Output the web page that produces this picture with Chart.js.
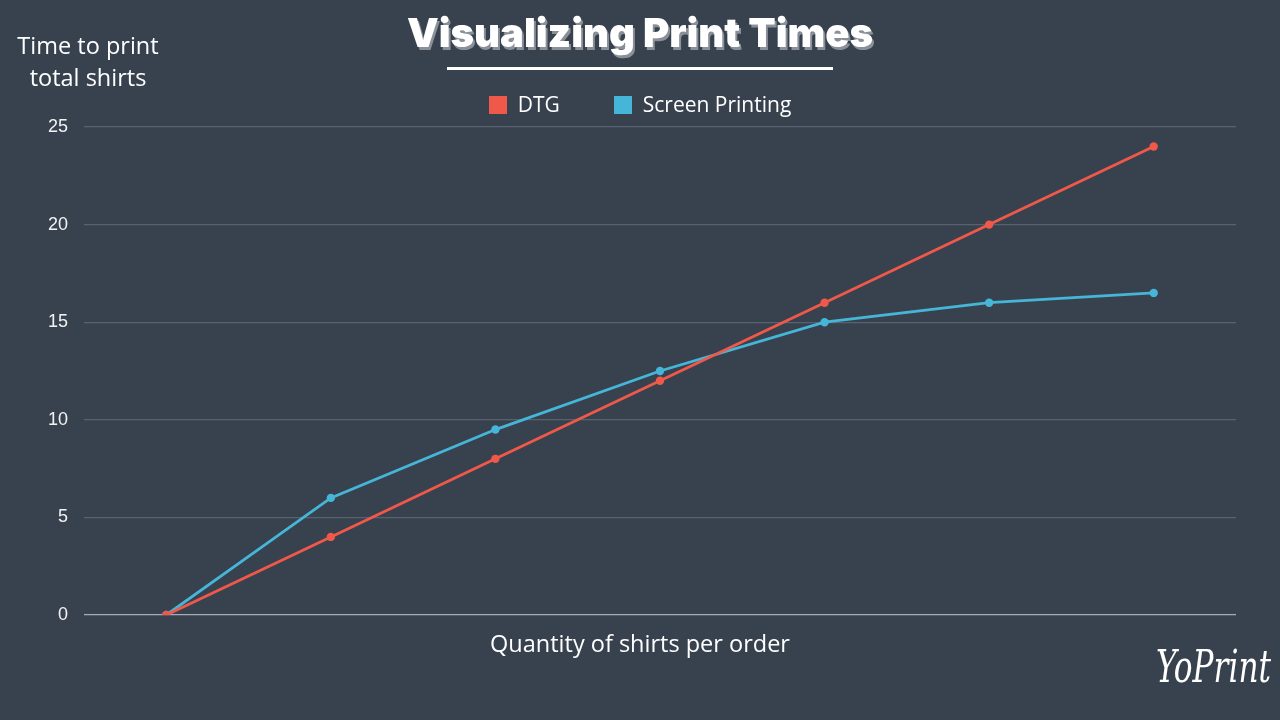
<!DOCTYPE html>
<html>
<head>
<meta charset="utf-8">
<script src="https://cdn.jsdelivr.net/npm/chart.js@4"></script>
<style>
  html, body { margin: 0; padding: 0; background: #38424f; }
  #wrap { position: relative; width: 1280px; height: 720px; overflow: hidden; }
  #chart { position: absolute; left: 0; top: 0; }
  .txt { position: absolute; color: #ffffff; font-family: "Open Sans", sans-serif; }
  #title { left: 0; width: 1280px; top: 8px; text-align: center; font-family: Inter, "DejaVu Sans", sans-serif;
           font-weight: 900; font-size: 40px; letter-spacing: 0px; text-shadow: 2px 3px 0 #8a8f98; }
  #rule { position: absolute; left: 447px; top: 67px; width: 386px; height: 3px; background: #ffffff; }
  #ytitle { left: 0; width: 176px; top: 29px; text-align: center; font-size: 23.5px; line-height: 32px; }
  #xtitle { left: 0; width: 1280px; top: 627px; text-align: center; font-size: 23.5px; }
  #legend { left: 0; width: 1280px; top: 90px; text-align: center; font-size: 21px; }
  #legend span.item { display: inline-block; margin: 0 27px; }
  #legend i { display: inline-block; width: 18px; height: 18px; margin-right: 11px; vertical-align: -2px; }
  #logo { left: 1156px; top: 640px; font-family: "DejaVu Serif", serif; font-style: italic; font-size: 38px;
          transform: scale(0.82, 1.2); transform-origin: left top; }
</style>
</head>
<body>
<div id="wrap">
  <canvas id="chart" width="1280" height="720"></canvas>
  <div class="txt" id="title">Visualizing Print Times</div>
  <div id="rule"></div>
  <div class="txt" id="ytitle">Time to print<br>total shirts</div>
  <div class="txt" id="legend"></div>
  <div class="txt" id="xtitle">Quantity of shirts per order</div>
  <div class="txt" id="logo">YoPrint</div>
</div>
<script>
// 出荷枚数ごとのカテゴリ（ラベルは元図で非表示）
const categories = ["", "", "", "", "", "", ""];
const dtgTimes = [0, 4, 8, 12, 16, 20, 24];
const screenTimes = [0, 6, 9.5, 12.5, 15, 16, 16.5];
const yTicks = [0, 5, 10, 15, 20, 25];

const seriesNames = ["DTG", "Screen Printing"];
const seriesColors = ["#f0584a", "#45b6d8"];

// HTML 凡例
const legendEl = document.getElementById("legend");
legendEl.innerHTML = seriesNames
  .map((n, i) => `<span class="item"><i style="background:${seriesColors[i]}"></i>${n}</span>`)
  .join("");

const ctx = document.getElementById("chart");

new Chart(ctx, {
  type: "line",
  data: {
    labels: categories,
    datasets: [
      {
        label: seriesNames[0],
        data: dtgTimes,
        borderColor: seriesColors[0],
        backgroundColor: seriesColors[0],
        borderWidth: 2.8,
        pointRadius: 2.8,
        tension: 0,
      },
      {
        label: seriesNames[1],
        data: screenTimes,
        borderColor: seriesColors[1],
        backgroundColor: seriesColors[1],
        borderWidth: 2.8,
        pointRadius: 2.8,
        tension: 0,
      },
    ],
  },
  options: {
    responsive: false,
    animation: false,
    layout: { padding: { left: 0, right: 44, top: 127, bottom: 105 } },
    plugins: {
      legend: { display: false },
      tooltip: { enabled: false },
    },
    scales: {
      x: {
        offset: true,
        grid: { display: false },
        border: { display: false },
        ticks: { display: false },
        afterFit: (s) => { s.height = 0; },
      },
      y: {
        min: 0,
        max: 25,
        afterBuildTicks: (s) => { s.ticks = yTicks.map((v) => ({ value: v })); },
        afterFit: (s) => { s.width = 84; },
        border: { display: false },
        grid: {
          drawTicks: false,
          lineWidth: 1.2,
          color: (c) => (c.tick && c.tick.value === 0 ? "#a3acb8" : "#58626f"),
        },
        ticks: {
          color: "#f2f2f2",
          padding: 16,
          font: { family: "Liberation Sans, Arial, sans-serif", size: 18 },
        },
      },
    },
  },
});
</script>
</body>
</html>
